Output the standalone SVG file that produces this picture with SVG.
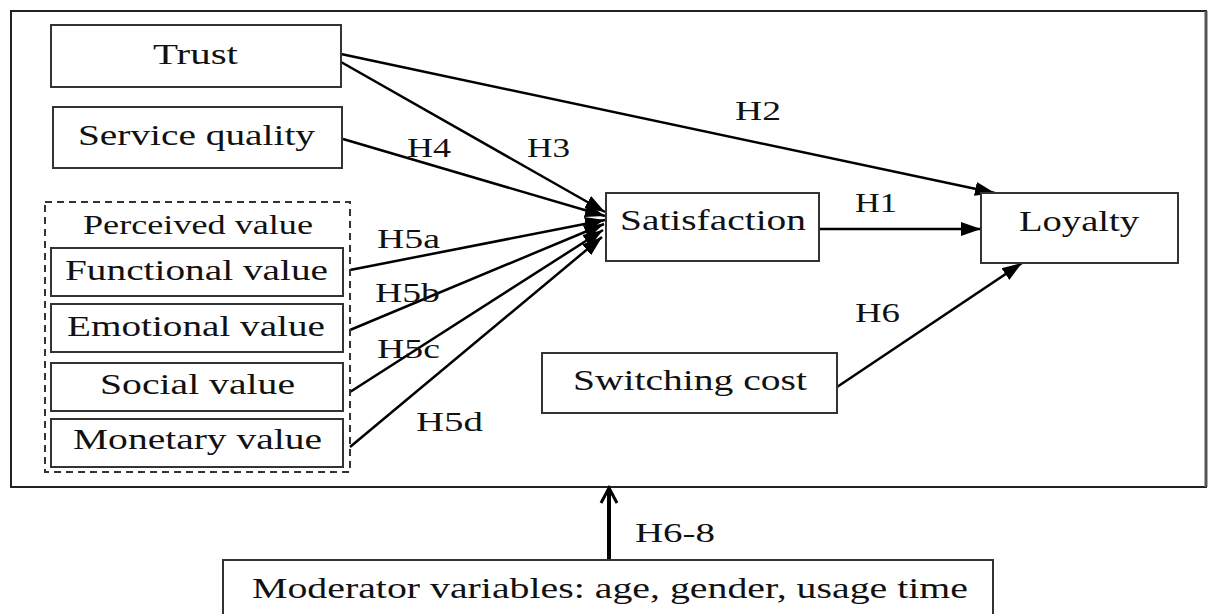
<svg xmlns="http://www.w3.org/2000/svg" width="1209" height="614" viewBox="0 0 1209 614">
  <style>
    .box { fill: #fff; stroke: #333; stroke-width: 2; }
    .dash { fill: none; stroke: #333; stroke-width: 2; stroke-dasharray: 7 5; }
    .t { font-family: "Liberation Serif", "Times New Roman", serif; font-size: 29px; fill: #111; }
    .pv { font-size: 27px; }
    .lbl { font-family: "Liberation Serif", "Times New Roman", serif; font-size: 28px; fill: #111; }
    .conn { stroke: #000; stroke-width: 2.5; fill: none; marker-end: url(#arr); }
    .mod { stroke: #000; stroke-width: 4; fill: none; marker-end: url(#arrOpen); }
  </style>
  <defs>
    <marker id="arr" markerUnits="userSpaceOnUse" markerWidth="22" markerHeight="16" refX="20" refY="8" orient="auto">
      <path d="M0,1 L20,8 L0,15 Z" fill="#000"/>
    </marker>
    <marker id="arrOpen" markerUnits="userSpaceOnUse" markerWidth="22" markerHeight="20" refX="18" refY="10" orient="auto">
      <path d="M3,2 L18,10 L3,18" fill="none" stroke="#000" stroke-width="3"/>
    </marker>
  </defs>

  <rect id="frame" x="11" y="11" width="1195" height="476" fill="#fff" stroke="#222" stroke-width="2"/>
  <line x1="1206" y1="11" x2="1206" y2="487" stroke="#555" stroke-width="3"/>

  <g id="connectors">
    <line class="conn" x1="341" y1="54" x2="995" y2="193"/>
    <line class="conn" x1="341" y1="62" x2="605" y2="212"/>
    <line class="conn" x1="343" y1="139" x2="605" y2="216"/>
    <line class="conn" x1="350" y1="270" x2="605" y2="220"/>
    <line class="conn" x1="350" y1="330" x2="604" y2="224"/>
    <line class="conn" x1="350" y1="392" x2="603" y2="230"/>
    <line class="conn" x1="350" y1="447" x2="602" y2="237"/>
    <line class="conn" x1="819" y1="229" x2="981" y2="229"/>
    <line class="conn" x1="837" y1="387" x2="1022" y2="263"/>
    <line class="mod" x1="609" y1="560" x2="609" y2="488"/>
    <text class="lbl" x="735" y="120" textLength="46" lengthAdjust="spacingAndGlyphs">H2</text>
    <text class="lbl" x="407" y="157" textLength="44" lengthAdjust="spacingAndGlyphs">H4</text>
    <text class="lbl" x="527" y="157" textLength="43" lengthAdjust="spacingAndGlyphs">H3</text>
    <text class="lbl" x="377" y="248" textLength="63" lengthAdjust="spacingAndGlyphs">H5a</text>
    <text class="lbl" x="375" y="302" textLength="65" lengthAdjust="spacingAndGlyphs">H5b</text>
    <text class="lbl" x="377" y="358" textLength="63" lengthAdjust="spacingAndGlyphs">H5c</text>
    <text class="lbl" x="416" y="431" textLength="67" lengthAdjust="spacingAndGlyphs">H5d</text>
    <text class="lbl" x="855" y="212" textLength="42" lengthAdjust="spacingAndGlyphs">H1</text>
    <text class="lbl" x="855" y="322" textLength="45" lengthAdjust="spacingAndGlyphs">H6</text>
    <text class="lbl" x="635" y="542" textLength="80" lengthAdjust="spacingAndGlyphs">H6-8</text>
  </g>

  <g id="trust">
    <rect class="box" x="51" y="25" width="290" height="62"/>
    <text class="t" x="153" y="64" textLength="85" lengthAdjust="spacingAndGlyphs">Trust</text>
  </g>
  <g id="service-quality">
    <rect class="box" x="53" y="107" width="289" height="61"/>
    <text class="t" x="78" y="145" textLength="237" lengthAdjust="spacingAndGlyphs">Service quality</text>
  </g>
  <g id="perceived-value">
    <rect class="dash" x="45" y="202" width="305" height="270"/>
    <text class="t pv" x="83" y="234" textLength="230" lengthAdjust="spacingAndGlyphs">Perceived value</text>
  </g>
  <g id="functional-value">
    <rect class="box" x="51" y="248" width="292" height="48"/>
    <text class="t" x="65" y="280" textLength="263" lengthAdjust="spacingAndGlyphs">Functional value</text>
  </g>
  <g id="emotional-value">
    <rect class="box" x="51" y="304" width="292" height="48"/>
    <text class="t" x="67" y="336" textLength="258" lengthAdjust="spacingAndGlyphs">Emotional value</text>
  </g>
  <g id="social-value">
    <rect class="box" x="51" y="363" width="292" height="48"/>
    <text class="t" x="100" y="394" textLength="195" lengthAdjust="spacingAndGlyphs">Social value</text>
  </g>
  <g id="monetary-value">
    <rect class="box" x="51" y="419" width="292" height="48"/>
    <text class="t" x="73" y="449" textLength="249" lengthAdjust="spacingAndGlyphs">Monetary value</text>
  </g>
  <g id="satisfaction">
    <rect class="box" x="606" y="193" width="213" height="68"/>
    <text class="t" x="620" y="230" textLength="186" lengthAdjust="spacingAndGlyphs">Satisfaction</text>
  </g>
  <g id="switching-cost">
    <rect class="box" x="542" y="353" width="295" height="60"/>
    <text class="t" x="573" y="390" textLength="234" lengthAdjust="spacingAndGlyphs">Switching cost</text>
  </g>
  <g id="loyalty">
    <rect class="box" x="981" y="193" width="197" height="70"/>
    <text class="t" x="1019" y="231" textLength="120" lengthAdjust="spacingAndGlyphs">Loyalty</text>
  </g>
  <g id="moderator">
    <rect class="box" x="223" y="560" width="770" height="60"/>
    <text class="t" x="252" y="598" textLength="716" lengthAdjust="spacingAndGlyphs">Moderator variables: age, gender, usage time</text>
  </g>
</svg>
